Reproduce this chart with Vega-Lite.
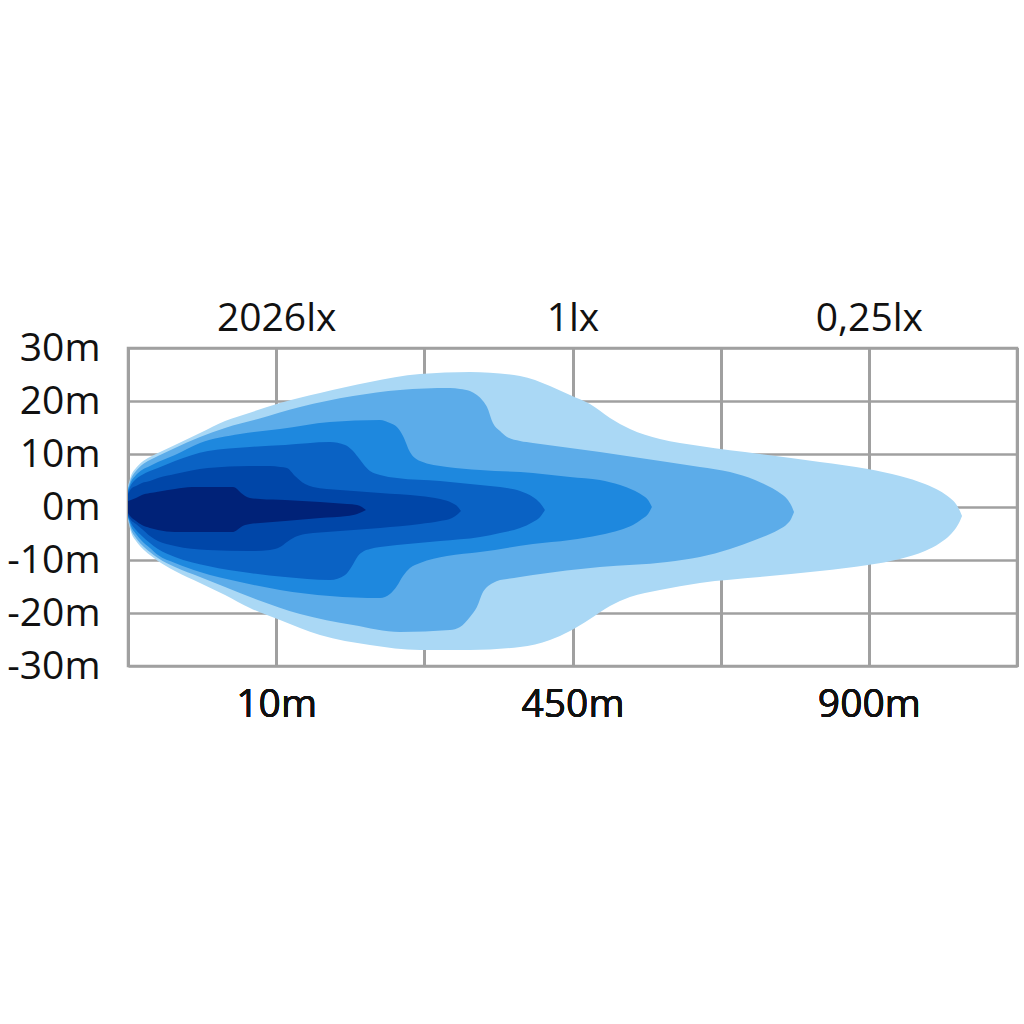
{
  "$schema": "https://vega.github.io/schema/vega-lite/v6.json",
  "width": 889,
  "height": 318,
  "autosize": "none",
  "padding": {"left": 128, "top": 348, "right": 7, "bottom": 358},
  "background": "white",
  "config": {
    "view": {"stroke": "#a0a0a0", "strokeWidth": 2.5},
    "axis": {"labelFont": "Open Sans", "labelFontSize": 39, "labelColor": "#111111", "ticks": false, "domain": false, "gridColor": "#a0a0a0", "gridWidth": 2.5, "gridOpacity": 1, "labelOverlap": false, "labelFlush": false}
  },
  "datasets": {
    "beam": [
      {"k":"L1","x":0,"t":3.96,"b":-2.45},
      {"k":"L1","x":0.02,"t":5.85,"b":-4.72},
      {"k":"L1","x":0.054,"t":7.36,"b":-6.42},
      {"k":"L1","x":0.094,"t":8.49,"b":-7.74},
      {"k":"L1","x":0.148,"t":9.43,"b":-9.06},
      {"k":"L1","x":0.202,"t":10.19,"b":-10.19},
      {"k":"L1","x":0.317,"t":11.7,"b":-12.08},
      {"k":"L1","x":0.486,"t":13.96,"b":-14.34},
      {"k":"L1","x":0.655,"t":16.23,"b":-16.6},
      {"k":"L1","x":0.823,"t":17.8,"b":-19.06},
      {"k":"L1","x":1.026,"t":19.6,"b":-21.32},
      {"k":"L1","x":1.296,"t":21.5,"b":-24.15},
      {"k":"L1","x":1.633,"t":23.58,"b":-26.04},
      {"k":"L1","x":1.971,"t":25.09,"b":-26.98},
      {"k":"L1","x":2.308,"t":25.47,"b":-26.98},
      {"k":"L1","x":2.646,"t":24.72,"b":-26.42},
      {"k":"L1","x":2.848,"t":22.83,"b":-25.09},
      {"k":"L1","x":2.983,"t":21.13,"b":-23.4},
      {"k":"L1","x":3.118,"t":19.43,"b":-21.13},
      {"k":"L1","x":3.253,"t":16.79,"b":-18.68},
      {"k":"L1","x":3.388,"t":14.72,"b":-16.98},
      {"k":"L1","x":3.59,"t":12.83,"b":-15.66},
      {"k":"L1","x":3.86,"t":11.51,"b":-14.34},
      {"k":"L1","x":4.265,"t":10.0,"b":-13.21},
      {"k":"L1","x":4.67,"t":8.49,"b":-12.08},
      {"k":"L1","x":4.994,"t":7.17,"b":-10.94},
      {"k":"L1","x":5.21,"t":5.85,"b":-9.81},
      {"k":"L1","x":5.379,"t":4.34,"b":-8.3},
      {"k":"L1","x":5.48,"t":3.02,"b":-6.79},
      {"k":"L1","x":5.548,"t":1.7,"b":-5.28},
      {"k":"L1","x":5.588,"t":0.57,"b":-3.96},
      {"k":"L1","x":5.615,"t":-0.75,"b":-2.64},
      {"k":"L1","x":5.629,"t":-1.7,"b":-1.7},

      {"k":"L2","x":0,"t":3.58,"b":-2.08},
      {"k":"L2","x":0.02,"t":5.28,"b":-4.15},
      {"k":"L2","x":0.054,"t":6.79,"b":-5.85},
      {"k":"L2","x":0.094,"t":7.92,"b":-7.17},
      {"k":"L2","x":0.148,"t":8.87,"b":-8.49},
      {"k":"L2","x":0.202,"t":9.62,"b":-9.62},
      {"k":"L2","x":0.317,"t":11.13,"b":-11.32},
      {"k":"L2","x":0.486,"t":13.21,"b":-13.21},
      {"k":"L2","x":0.655,"t":14.91,"b":-15.09},
      {"k":"L2","x":0.877,"t":16.6,"b":-17.55},
      {"k":"L2","x":1.161,"t":18.87,"b":-20.19},
      {"k":"L2","x":1.519,"t":20.94,"b":-22.26},
      {"k":"L2","x":1.836,"t":22.08,"b":-23.58},
      {"k":"L2","x":2.173,"t":22.45,"b":-23.21},
      {"k":"L2","x":2.241,"t":22.26,"b":-22.64},
      {"k":"L2","x":2.308,"t":21.89,"b":-20.75},
      {"k":"L2","x":2.355,"t":21.13,"b":-18.87},
      {"k":"L2","x":2.396,"t":20.0,"b":-16.04},
      {"k":"L2","x":2.423,"t":18.87,"b":-15.09},
      {"k":"L2","x":2.463,"t":15.85,"b":-14.34},
      {"k":"L2","x":2.511,"t":14.34,"b":-13.77},
      {"k":"L2","x":2.558,"t":13.21,"b":-13.58},
      {"k":"L2","x":2.646,"t":12.45,"b":-13.21},
      {"k":"L2","x":2.733,"t":12.08,"b":-12.83},
      {"k":"L2","x":3.185,"t":10.38,"b":-11.32},
      {"k":"L2","x":3.638,"t":8.49,"b":-10.38},
      {"k":"L2","x":3.86,"t":7.55,"b":-9.43},
      {"k":"L2","x":4.063,"t":6.6,"b":-7.92},
      {"k":"L2","x":4.232,"t":5.09,"b":-6.23},
      {"k":"L2","x":4.333,"t":3.77,"b":-5.09},
      {"k":"L2","x":4.4,"t":2.64,"b":-4.15},
      {"k":"L2","x":4.448,"t":1.51,"b":-3.21},
      {"k":"L2","x":4.475,"t":0.38,"b":-2.26},
      {"k":"L2","x":4.495,"t":-0.94,"b":-0.94},

      {"k":"L3","x":0,"t":3.21,"b":-1.89},
      {"k":"L3","x":0.02,"t":4.72,"b":-3.58},
      {"k":"L3","x":0.054,"t":6.04,"b":-5.09},
      {"k":"L3","x":0.094,"t":6.98,"b":-6.42},
      {"k":"L3","x":0.148,"t":7.74,"b":-7.74},
      {"k":"L3","x":0.202,"t":8.49,"b":-9.06},
      {"k":"L3","x":0.317,"t":9.81,"b":-10.57},
      {"k":"L3","x":0.486,"t":12.08,"b":-12.26},
      {"k":"L3","x":0.756,"t":13.77,"b":-14.15},
      {"k":"L3","x":1.026,"t":14.72,"b":-15.66},
      {"k":"L3","x":1.363,"t":16.04,"b":-16.79},
      {"k":"L3","x":1.701,"t":16.42,"b":-17.17},
      {"k":"L3","x":1.768,"t":15.85,"b":-16.42},
      {"k":"L3","x":1.815,"t":15.09,"b":-14.91},
      {"k":"L3","x":1.856,"t":13.4,"b":-13.02},
      {"k":"L3","x":1.903,"t":10.38,"b":-11.51},
      {"k":"L3","x":1.971,"t":8.68,"b":-10.57},
      {"k":"L3","x":2.153,"t":7.55,"b":-9.25},
      {"k":"L3","x":2.376,"t":6.98,"b":-8.49},
      {"k":"L3","x":2.733,"t":6.42,"b":-6.98},
      {"k":"L3","x":2.983,"t":5.66,"b":-6.23},
      {"k":"L3","x":3.185,"t":5.09,"b":-5.28},
      {"k":"L3","x":3.321,"t":4.15,"b":-4.34},
      {"k":"L3","x":3.408,"t":3.21,"b":-3.4},
      {"k":"L3","x":3.469,"t":2.26,"b":-2.26},
      {"k":"L3","x":3.51,"t":1.32,"b":-1.32},
      {"k":"L3","x":3.536,"t":0.0,"b":0.0},

      {"k":"L4","x":0,"t":2.83,"b":-1.7},
      {"k":"L4","x":0.02,"t":4.15,"b":-3.02},
      {"k":"L4","x":0.054,"t":5.28,"b":-4.34},
      {"k":"L4","x":0.094,"t":6.04,"b":-5.47},
      {"k":"L4","x":0.148,"t":6.79,"b":-6.79},
      {"k":"L4","x":0.202,"t":7.36,"b":-7.92},
      {"k":"L4","x":0.317,"t":8.68,"b":-9.43},
      {"k":"L4","x":0.54,"t":10.57,"b":-11.13},
      {"k":"L4","x":0.823,"t":11.32,"b":-12.45},
      {"k":"L4","x":1.06,"t":11.7,"b":-13.21},
      {"k":"L4","x":1.363,"t":12.26,"b":-13.77},
      {"k":"L4","x":1.465,"t":11.7,"b":-12.83},
      {"k":"L4","x":1.512,"t":10.75,"b":-11.13},
      {"k":"L4","x":1.552,"t":9.43,"b":-9.25},
      {"k":"L4","x":1.593,"t":7.92,"b":-8.3},
      {"k":"L4","x":1.633,"t":6.79,"b":-7.92},
      {"k":"L4","x":1.701,"t":6.04,"b":-7.55},
      {"k":"L4","x":1.815,"t":5.47,"b":-7.17},
      {"k":"L4","x":2.106,"t":4.91,"b":-6.42},
      {"k":"L4","x":2.376,"t":4.15,"b":-5.66},
      {"k":"L4","x":2.511,"t":3.77,"b":-4.91},
      {"k":"L4","x":2.646,"t":3.02,"b":-3.96},
      {"k":"L4","x":2.733,"t":1.89,"b":-2.83},
      {"k":"L4","x":2.781,"t":0.75,"b":-1.89},
      {"k":"L4","x":2.814,"t":-0.57,"b":-0.57},

      {"k":"L5","x":0,"t":2.45,"b":-1.51},
      {"k":"L5","x":0.02,"t":3.4,"b":-2.45},
      {"k":"L5","x":0.054,"t":3.96,"b":-3.21},
      {"k":"L5","x":0.094,"t":4.53,"b":-4.15},
      {"k":"L5","x":0.148,"t":4.91,"b":-5.47},
      {"k":"L5","x":0.202,"t":5.47,"b":-6.42},
      {"k":"L5","x":0.317,"t":6.23,"b":-7.36},
      {"k":"L5","x":0.54,"t":7.36,"b":-8.11},
      {"k":"L5","x":0.823,"t":7.74,"b":-8.3},
      {"k":"L5","x":0.958,"t":7.74,"b":-8.11},
      {"k":"L5","x":1.026,"t":7.55,"b":-7.55},
      {"k":"L5","x":1.073,"t":7.36,"b":-6.6},
      {"k":"L5","x":1.127,"t":5.85,"b":-5.66},
      {"k":"L5","x":1.195,"t":4.34,"b":-5.09},
      {"k":"L5","x":1.249,"t":3.77,"b":-4.91},
      {"k":"L5","x":1.431,"t":3.21,"b":-4.53},
      {"k":"L5","x":1.701,"t":2.64,"b":-3.96},
      {"k":"L5","x":1.971,"t":2.08,"b":-3.21},
      {"k":"L5","x":2.106,"t":1.51,"b":-2.64},
      {"k":"L5","x":2.187,"t":0.75,"b":-2.08},
      {"k":"L5","x":2.227,"t":0.0,"b":-1.32},
      {"k":"L5","x":2.247,"t":-0.75,"b":-0.75},

      {"k":"L6","x":0,"t":1.13,"b":-1.13},
      {"k":"L6","x":0.02,"t":1.32,"b":-1.89},
      {"k":"L6","x":0.054,"t":1.7,"b":-2.64},
      {"k":"L6","x":0.094,"t":2.26,"b":-3.4},
      {"k":"L6","x":0.148,"t":2.64,"b":-3.96},
      {"k":"L6","x":0.202,"t":2.9,"b":-4.34},
      {"k":"L6","x":0.317,"t":3.4,"b":-4.72},
      {"k":"L6","x":0.432,"t":3.77,"b":-4.72},
      {"k":"L6","x":0.587,"t":3.77,"b":-4.72},
      {"k":"L6","x":0.709,"t":3.77,"b":-4.72},
      {"k":"L6","x":0.736,"t":3.4,"b":-4.34},
      {"k":"L6","x":0.763,"t":2.64,"b":-3.77},
      {"k":"L6","x":0.79,"t":2.08,"b":-3.4},
      {"k":"L6","x":0.823,"t":1.7,"b":-3.21},
      {"k":"L6","x":0.891,"t":1.51,"b":-3.02},
      {"k":"L6","x":1.06,"t":1.32,"b":-2.64},
      {"k":"L6","x":1.296,"t":0.94,"b":-2.08},
      {"k":"L6","x":1.478,"t":0.57,"b":-1.7},
      {"k":"L6","x":1.546,"t":0.38,"b":-1.32},
      {"k":"L6","x":1.579,"t":0.0,"b":-0.94},
      {"k":"L6","x":1.606,"t":-0.57,"b":-0.57}
    ]
  },
  "data": {"name": "beam"},
  "encoding": {
    "x": {"field": "x", "type": "quantitative", "scale": {"domain": [0, 6], "nice": false, "zero": false},
          "axis": {"orient": "bottom", "values": [0, 1, 2, 3, 4, 5, 6], "grid": true, "labelPadding": 19, "title": null,
                   "labelExpr": "datum.value == 1 ? '10m' : datum.value == 3 ? '450m' : datum.value == 5 ? '900m' : ''"}},
    "y": {"field": "t", "type": "quantitative", "scale": {"domain": [-30, 30], "nice": false, "zero": false},
          "axis": {"orient": "left", "values": [-30, -20, -10, 0, 10, 20, 30], "grid": true, "labelPadding": 28, "title": null, "labelExpr": "datum.value + 'm'"}},
    "y2": {"field": "b"}
  },
  "layer": [
    {
      "transform": [{"filter": "datum.k == 'L1'"}],
      "mark": {"type": "area", "interpolate": "monotone", "color": "#aad8f5"}
    },
    {
      "transform": [{"filter": "datum.k == 'L2'"}],
      "mark": {"type": "area", "interpolate": "monotone", "color": "#5cace9"}
    },
    {
      "transform": [{"filter": "datum.k == 'L3'"}],
      "mark": {"type": "area", "interpolate": "monotone", "color": "#1e88de"}
    },
    {
      "transform": [{"filter": "datum.k == 'L4'"}],
      "mark": {"type": "area", "interpolate": "monotone", "color": "#0a62c4"}
    },
    {
      "transform": [{"filter": "datum.k == 'L5'"}],
      "mark": {"type": "area", "interpolate": "monotone", "color": "#0046a8"}
    },
    {
      "transform": [{"filter": "datum.k == 'L6'"}],
      "mark": {"type": "area", "interpolate": "monotone", "color": "#002278"}
    },
    {
      "transform": [{"filter": "datum.k == 'L6'"}],
      "mark": {"type": "area", "opacity": 0},
      "encoding": {
        "x": {"field": "x", "type": "quantitative",
              "axis": {"orient": "top", "values": [1, 3, 5], "grid": false, "labelPadding": 10, "title": null,
                       "labelExpr": "datum.value == 1 ? '2026lx' : datum.value == 3 ? '1lx' : '0,25lx'"}}
      }
    }
  ]
}
